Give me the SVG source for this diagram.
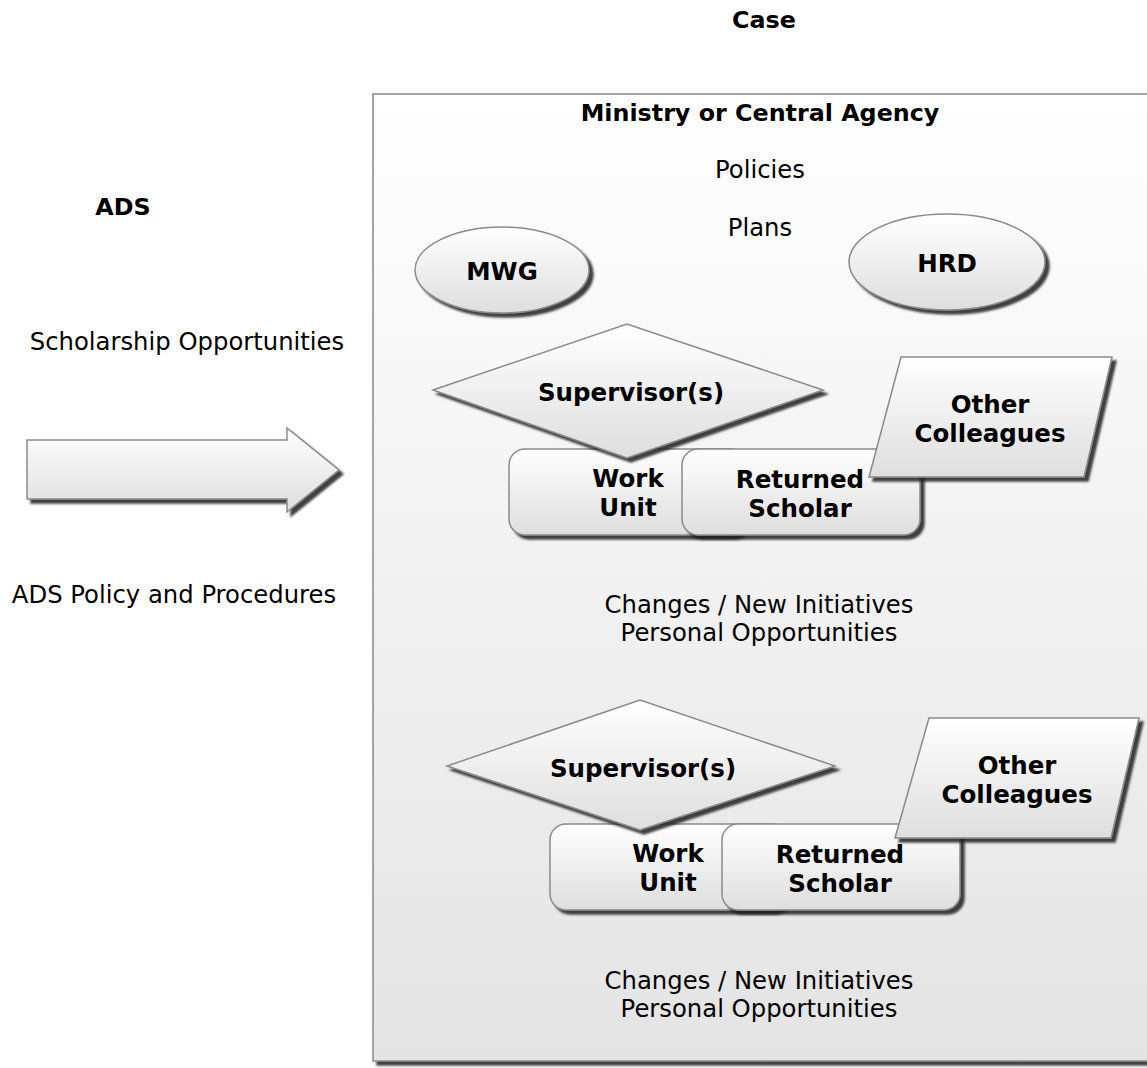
<svg xmlns="http://www.w3.org/2000/svg" width="1147" height="1068" viewBox="0 0 1147 1068">
<defs>
<linearGradient id="gBig" x1="0" y1="0" x2="0" y2="1"><stop offset="0" stop-color="#ffffff"/><stop offset="1" stop-color="#e4e4e4"/></linearGradient>
<linearGradient id="gShape" x1="0" y1="0" x2="0" y2="1"><stop offset="0" stop-color="#ffffff"/><stop offset="1" stop-color="#dedede"/></linearGradient>
<filter id="sh" x="-10%" y="-10%" width="130%" height="130%"><feDropShadow dx="4" dy="4" stdDeviation="1" flood-color="#222" flood-opacity="0.85"/></filter>
</defs>
<style>
.shape{fill:url(#gShape);stroke:#8a8a8a;stroke-width:1.5;filter:url(#sh)}
.t{font-family:"DejaVu Sans","Verdana",sans-serif;font-size:24.3px;fill:#000;text-anchor:middle}
.b{font-weight:bold;font-size:23.8px}
.n{font-size:24.5px}
</style>
<g id="case-container">
<rect x="373" y="94" width="790" height="967" fill="url(#gBig)" stroke="#888" stroke-width="1.5" filter="url(#sh)"/>
</g>
<g id="labels">
<text class="t b" x="764" y="28">Case</text>
<text class="t b" x="760" y="121">Ministry or Central Agency</text>
<text class="t" x="760" y="178">Policies</text>
<text class="t" x="760" y="236">Plans</text>
<text class="t b" x="123" y="215">ADS</text>
<text class="t" x="187" y="350">Scholarship Opportunities</text>
<text class="t" x="174" y="603">ADS Policy and Procedures</text>
<text class="t" x="759" y="613">Changes / New Initiatives</text>
<text class="t" x="759" y="641">Personal Opportunities</text>
<text class="t" x="759" y="989">Changes / New Initiatives</text>
<text class="t" x="759" y="1017">Personal Opportunities</text>
</g>
<g id="connectors">
<g id="ads-arrow">
<path class="shape" d="M27,440 L287,440 L287,428 L339,470 L287,512 L287,499 L27,499 Z"/>
</g>
</g>
<g id="mwg">
<ellipse class="shape" cx="502" cy="270" rx="87" ry="43"/>
<text class="t b n" x="502" y="280">MWG</text>
</g>
<g id="hrd">
<ellipse class="shape" cx="947" cy="262" rx="98" ry="48"/>
<text class="t b n" x="947" y="272">HRD</text>
</g>
<g id="work-unit-1">
<rect class="shape" x="509" y="449" width="238" height="86" rx="16"/>
<text class="t b n" x="628" y="487">Work</text>
<text class="t b n" x="628" y="516">Unit</text>
</g>
<g id="returned-scholar-1">
<rect class="shape" x="682" y="449" width="238" height="86" rx="16"/>
<text class="t b n" x="800" y="488">Returned</text>
<text class="t b n" x="800" y="517">Scholar</text>
</g>
<g id="supervisor-1">
<polygon class="shape" points="433,390 627,324 823,390 627,458"/>
<text class="t b n" x="631" y="401">Supervisor(s)</text>
</g>
<g id="colleagues-1">
<polygon class="shape" points="901,357 1112,357 1084,477 869,477"/>
<text class="t b n" x="990" y="413">Other</text>
<text class="t b n" x="990" y="442">Colleagues</text>
</g>
<g id="work-unit-2">
<rect class="shape" x="550" y="824" width="238" height="86" rx="16"/>
<text class="t b n" x="668" y="862">Work</text>
<text class="t b n" x="668" y="891">Unit</text>
</g>
<g id="returned-scholar-2">
<rect class="shape" x="722" y="824" width="238" height="86" rx="16"/>
<text class="t b n" x="840" y="863">Returned</text>
<text class="t b n" x="840" y="892">Scholar</text>
</g>
<g id="supervisor-2">
<polygon class="shape" points="447,766 640,700 835,766 640,830"/>
<text class="t b n" x="643" y="777">Supervisor(s)</text>
</g>
<g id="colleagues-2">
<polygon class="shape" points="929,718 1139,718 1111,838 895,838"/>
<text class="t b n" x="1017" y="774">Other</text>
<text class="t b n" x="1017" y="803">Colleagues</text>
</g>
</svg>
